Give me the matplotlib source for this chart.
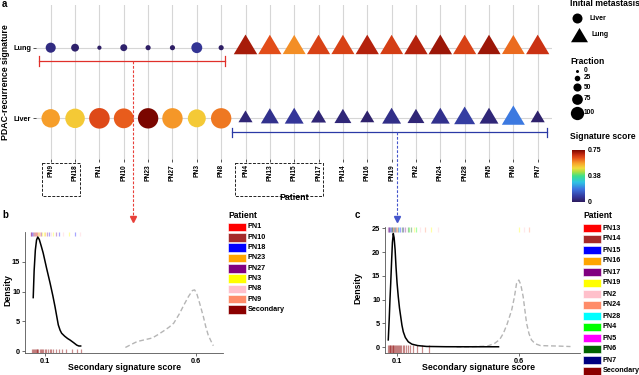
import numpy as np
import matplotlib
matplotlib.use("Agg")
import matplotlib.pyplot as plt
from matplotlib.colors import LinearSegmentedColormap, Normalize
from matplotlib.cm import ScalarMappable
from matplotlib.path import Path
from matplotlib.patches import Rectangle
import matplotlib.transforms as mtrans

plt.rcParams['font.family'] = ['Liberation Sans', 'DejaVu Sans']
plt.rcParams['font.weight'] = 'bold'

# ---------------- panel a data ----------------
patients = ['PN9', 'PN18', 'PN1', 'PN10', 'PN23', 'PN27', 'PN3', 'PN8',
            'PN4', 'PN13', 'PN15', 'PN17', 'PN14', 'PN16', 'PN19', 'PN2',
            'PN24', 'PN28', 'PN5', 'PN6', 'PN7']
initial_met = ['Liver'] * 8 + ['Lung'] * 13
signature_levels = ['Liver', 'Lung']
lung_score = [0.045, 0.02, 0.01, 0.02, 0.01, 0.01, 0.07, 0.01,
              0.71, 0.64, 0.58, 0.655, 0.655, 0.70, 0.66, 0.70,
              0.72, 0.655, 0.72, 0.61, 0.675]
lung_fraction = [23, 14, 4, 11, 6, 6, 27, 6,
                 100, 97, 95, 97, 96, 98, 96, 99, 100, 97, 97, 94, 98]
liver_score = [0.565, 0.51, 0.645, 0.625, 0.75, 0.57, 0.51, 0.60,
               0.03, 0.06, 0.075, 0.03, 0.035, 0.02, 0.055, 0.03,
               0.06, 0.09, 0.035, 0.195, 0.02]
liver_fraction = [77, 86, 96, 89, 94, 94, 73, 94,
                  36, 59, 65, 41, 52, 36, 65, 52, 65, 80, 65, 96, 36]
fraction_breaks = [0, 25, 50, 75, 100]
score_ticks = [0, 0.38, 0.75]
score_tick_labels = ['0', '0.38', '0.75']

liver_group_span = (-0.47, 7.16)
lung_group_span = (7.43, 20.39)
liver_group_arrow_x = 3.39
lung_group_arrow_x = 14.22
boxed_label_spans = [(-0.36, 1.2), (7.57, 11.18)]

# ---------------- panel b data ----------------
b_primary_x = [0.061, 0.064, 0.068, 0.072, 0.076, 0.081, 0.088, 0.094, 0.105, 0.117,
               0.126, 0.133, 0.139, 0.144, 0.150, 0.155, 0.165, 0.175, 0.183, 0.195,
               0.205, 0.212, 0.218]
b_primary_y = [9.0, 13.5, 17.0, 18.7, 19.2, 18.8, 17.6, 16.5, 14.0, 11.4,
               9.3, 7.5, 5.8, 4.4, 3.5, 3.0, 2.5, 2.1, 1.85, 1.4,
               1.0, 0.85, 0.85]
b_other_x = [0.366, 0.385, 0.405, 0.43, 0.455, 0.475, 0.493, 0.51, 0.526, 0.545,
             0.56, 0.575, 0.588, 0.595, 0.602, 0.612, 0.624, 0.632, 0.640, 0.650, 0.657]
b_other_y = [0.6, 1.1, 1.6, 1.9, 2.2, 2.8, 3.4, 4.0, 4.7, 6.3,
             7.8, 9.2, 10.2, 10.3, 9.7, 8.0, 5.8, 4.1, 2.7, 1.6, 0.9]
b_rug_top_values = [0.052, 0.055, 0.058, 0.061, 0.064, 0.067, 0.070, 0.073, 0.076, 0.079,
                    0.083, 0.087, 0.091, 0.096, 0.101, 0.107, 0.113, 0.120, 0.128, 0.137,
                    0.147, 0.160, 0.178, 0.200, 0.215]
b_rug_top_patient = ['PN27', 'PN27', 'PN18', 'PN27', 'PN10', 'PN10', 'PN1', 'PN10', 'PN23', 'PN23',
                     'PN9', 'PN27', 'PN3', 'PN3', 'PN23', 'PN27', 'PN18', 'PN8', 'PN3', 'PN27',
                     'PN18', 'PN8', 'PN3', 'PN18', 'PN8']
b_rug_bottom_values = [0.056, 0.060, 0.063, 0.066, 0.069, 0.072, 0.075, 0.078, 0.082, 0.086,
                       0.090, 0.095, 0.100, 0.104, 0.109, 0.115, 0.121, 0.128, 0.136, 0.145,
                       0.155, 0.170, 0.190, 0.205, 0.220]
b_patients = ['PN1', 'PN10', 'PN18', 'PN23', 'PN27', 'PN3', 'PN8', 'PN9', 'Secondary']
b_patient_colors = ['#ff0000', '#a52a2a', '#0000ff', '#ffa500', '#800080', '#ffff00',
                    '#ffc0cb', '#ff8c69', '#8b0000']

# ---------------- panel c data ----------------
c_primary_x = [0.063, 0.067, 0.070, 0.073, 0.077, 0.080, 0.0836, 0.087, 0.091, 0.0947,
               0.099, 0.104, 0.109, 0.114, 0.119, 0.1246, 0.133, 0.145, 0.16, 0.184,
               0.22, 0.30, 0.40, 0.515]
c_primary_y = [1.5, 6.0, 10.0, 13.4, 18.5, 22.0, 23.9, 23.0, 20.5, 16.9,
               13.5, 10.6, 8.2, 6.4, 4.6, 3.2, 2.0, 1.1, 0.6, 0.3,
               0.12, 0.06, 0.05, 0.05]
c_other_x = [0.343, 0.40, 0.47, 0.50, 0.52, 0.535, 0.55, 0.569, 0.58, 0.589,
             0.598, 0.606, 0.616, 0.623, 0.63, 0.64, 0.65, 0.665, 0.687, 0.72, 0.76, 0.81]
c_other_y = [0.0, 0.05, 0.2, 0.8, 1.6, 2.9, 4.8, 7.8, 10.5, 13.4,
             14.1, 13.2, 10.6, 7.8, 5.0, 2.8, 1.5, 0.7, 0.3, 0.25, 0.2, 0.1]
c_rug_top_values = [0.062, 0.065, 0.068, 0.071, 0.074, 0.077, 0.080, 0.083, 0.086, 0.089,
                    0.093, 0.097, 0.101, 0.106, 0.112, 0.118, 0.125, 0.133, 0.142, 0.150,
                    0.158, 0.167, 0.178, 0.195, 0.215, 0.240, 0.265, 0.600, 0.620, 0.640]
c_rug_top_patient = ['PN17', 'PN7', 'PN17', 'PN15', 'PN7', 'PN4', 'PN7', 'PN13', 'PN6', 'PN7',
                     'PN14', 'PN16', 'PN7', 'PN28', 'PN15', 'PN6', 'PN7', 'PN17', 'PN6', 'PN4',
                     'PN6', 'PN19', 'PN4', 'PN2', 'PN24', 'PN19', 'PN2', 'PN19', 'PN2', 'PN24']
c_rug_bottom_values = [0.063, 0.066, 0.069, 0.072, 0.075, 0.078, 0.081, 0.084, 0.087, 0.090,
                       0.094, 0.098, 0.102, 0.106, 0.111, 0.116, 0.122, 0.128, 0.135, 0.143,
                       0.152, 0.165, 0.180, 0.200, 0.230]
c_patients = ['PN13', 'PN14', 'PN15', 'PN16', 'PN17', 'PN19', 'PN2', 'PN24', 'PN28',
              'PN4', 'PN5', 'PN6', 'PN7', 'Secondary']
c_patient_colors = ['#ff0000', '#a52a2a', '#0000ff', '#ffa500', '#800080', '#ffff00',
                    '#ffc0cb', '#ff8c69', '#00ffff', '#00ff00', '#ff00ff', '#006400',
                    '#000080', '#8b0000']

# ---------------- figure ----------------
W, H = 639, 375
fig = plt.figure(figsize=(W / 100, H / 100), dpi=100)


def px_axes(l, t, r, b):
    return fig.add_axes([l / W, 1 - b / H, (r - l) / W, (b - t) / H])


ov = fig.add_axes([0, 0, 1, 1], zorder=20)
ov.set_xlim(0, W)
ov.set_ylim(H, 0)
ov.axis('off')
ov.patch.set_alpha(0)

cmap = LinearSegmentedColormap.from_list('sig', [
    (0.00, '#2d1b5e'), (0.10, '#34379a'), (0.25, '#3d74e0'), (0.38, '#2ec4e4'),
    (0.50, '#3ee08a'), (0.58, '#a8e044'), (0.65, '#f2dc3c'), (0.75, '#f7a02a'),
    (0.85, '#e5501a'), (0.92, '#c02810'), (1.00, '#7a0600')])
norm = Normalize(0, 0.75)

tri_path = Path([(0, 0.667), (-0.595, -0.333), (0.595, -0.333), (0, 0.667)],
                [Path.MOVETO, Path.LINETO, Path.LINETO, Path.CLOSEPOLY])


def circ_s(f):
    return (2.1 * np.sqrt(np.asarray(f, float)) * 0.72) ** 2


def tri_s(f):
    return (2.35 * np.sqrt(np.asarray(f, float)) / 0.8925 * 0.72) ** 2


# ---------------- panel a ----------------
axa = px_axes(36.1, 5.3, 552.3, 159.3)
axa.patch.set_alpha(0)
xs = np.arange(len(patients))
axa.set_xlim(-0.6, len(patients) - 0.4)
axa.set_ylim(0.42, 2.6)
axa.set_xticks(xs)
axa.set_xticklabels(patients, rotation=90, fontsize=4.8)
axa.set_yticks([1, 2])
axa.set_yticklabels(signature_levels, fontsize=5.2)
axa.grid(True, color='#d6d6d6', lw=0.8, zorder=0)
axa.set_axisbelow(True)
for s in axa.spines.values():
    s.set_visible(False)
axa.tick_params(length=2.3, width=0.6, color='#333333', pad=1.2)

met = np.array(initial_met)
for row_y, scores, fracs in [(2, lung_score, lung_fraction), (1, liver_score, liver_fraction)]:
    scores = np.array(scores)
    fracs = np.array(fracs)
    m = met == 'Liver'
    axa.scatter(xs[m], np.full(m.sum(), row_y), s=circ_s(fracs[m]), c=scores[m],
                cmap=cmap, norm=norm, marker='o', linewidths=0, zorder=3)
    m = met == 'Lung'
    axa.scatter(xs[m], np.full(m.sum(), row_y), s=tri_s(fracs[m]), c=scores[m],
                cmap=cmap, norm=norm, marker=tri_path, linewidths=0, zorder=3)

blend = mtrans.blended_transform_factory(axa.transData, ov.transData)
for span, yb, xarr, col, dcol in [(liver_group_span, 1.816, liver_group_arrow_x, '#e0302a', '#e8403a'),
                                  (lung_group_span, 0.80, lung_group_arrow_x, '#2b3aa6', '#4455cc')]:
    axa.plot(span, [yb, yb], color=col, lw=0.9, clip_on=False, zorder=4)
    for xe in span:
        axa.plot([xe, xe], [yb - 0.07, yb + 0.07], color=col, lw=0.9, clip_on=False, zorder=4)
    y0_px = axa.transData.transform((0, yb))
    y0_px = ov.transData.inverted().transform(y0_px)[1]
    axa.plot([xarr, xarr], [y0_px, 217], transform=blend, color=dcol, lw=0.8,
             ls=(0, (2.5, 1.5)), clip_on=False, zorder=4)
    axa.plot([xarr], [219], transform=blend, marker='v', ms=4, color=dcol,
             mec=dcol, clip_on=False, zorder=4)

for x0, x1 in boxed_label_spans:
    r = Rectangle((x0, 163), x1 - x0, 33, transform=blend, fill=False,
                  edgecolor='#222222', lw=0.7, ls=(0, (3, 1.5)), clip_on=False)
    axa.add_patch(r)

ov.text(294, 198, 'Patient', fontsize=6.3, ha='center', va='center')
ov.text(6, 82, 'PDAC-recurrence signature', fontsize=6.3, rotation=90,
        ha='center', va='center')
ov.text(2, 4, 'a', fontsize=7, ha='left', va='center')
ov.text(2, 215, 'b', fontsize=7, ha='left', va='center')
ov.text(355, 215, 'c', fontsize=7, ha='left', va='center')

# panel a legends
ov.text(570, 4, 'Initial metastasis', fontsize=6.2, ha='left', va='center')
ov.scatter([577], [18.3], s=(10 * 0.72) ** 2, marker='o', c='black', linewidths=0)
ov.text(590, 18.3, 'Liver', fontsize=5.0, ha='left', va='center')
ov.scatter([579], [37], s=(17 / 0.8925 * 0.72) ** 2, marker=tri_path, c='black', linewidths=0)
ov.text(591, 35, 'Lung', fontsize=5.0, ha='left', va='center')

ov.text(570, 61, 'Fraction', fontsize=6.2, ha='left', va='center')
leg_y = [70.7, 77.5, 87.3, 99.0, 113.0]
for fb, yy in zip(fraction_breaks, leg_y):
    d = 3 + 10.3 * fb / 100
    ov.scatter([577], [yy], s=(d * 0.72) ** 2, marker='o', c='black', linewidths=0)
    ov.text(584, yy, str(fb), fontsize=4.8, ha='left', va='center')

ov.text(570, 136.5, 'Signature score', fontsize=6.2, ha='left', va='center')
cax = px_axes(572, 150, 585, 202)
cb = fig.colorbar(ScalarMappable(norm=norm, cmap=cmap), cax=cax, ticks=score_ticks)
cb.set_ticklabels(score_tick_labels)
cb.outline.set_visible(False)
cax.tick_params(length=0, labelsize=5, pad=2)


# ---------------- panels b & c ----------------
def density_panel(box, xlim, ylim, yticks, prim, other, rug_top, rug_top_pat,
                  rug_bot, pats, pcols, rug_top_span, rug_bot_span):
    ax = px_axes(*box)
    ax.patch.set_alpha(0)
    colmap = dict(zip(pats, pcols))
    ax.vlines(rug_top, rug_top_span[0], rug_top_span[1],
              colors=[colmap[p] for p in rug_top_pat], alpha=0.35, lw=0.9, zorder=1)
    ax.vlines(rug_bot, rug_bot_span[0], rug_bot_span[1], colors=colmap['Secondary'],
              alpha=0.45, lw=0.9, zorder=1)
    ax.plot(other[0], other[1], color='#b5b5b5', lw=1.0, ls=(0, (3.5, 2)), zorder=2)
    ax.plot(prim[0], prim[1], color='black', lw=1.1, zorder=3)
    ax.set_xlim(*xlim)
    ax.set_ylim(*ylim)
    ax.set_xticks([0.1, 0.6])
    ax.set_xticklabels(['0.1', '0.6'])
    ax.set_yticks(yticks)
    for s in ['top', 'right']:
        ax.spines[s].set_visible(False)
    for s in ['left', 'bottom']:
        ax.spines[s].set_color('#555555')
        ax.spines[s].set_linewidth(0.6)
    ax.tick_params(length=2, width=0.6, color='#555555', labelsize=5.3, pad=1.5)
    return ax


axb = density_panel((25, 231.7, 223, 353), (0.0338, 0.689), (-0.33, 20.1), [0, 5, 10, 15],
                    (b_primary_x, b_primary_y), (b_other_x, b_other_y),
                    b_rug_top_values, b_rug_top_patient, b_rug_bottom_values,
                    b_patients, b_patient_colors, (19.4, 20.1), (-0.33, 0.4))
axc = density_panel((385, 227.3, 580, 353), (0.0496, 0.849), (-1.26, 25.2), [0, 5, 10, 15, 20, 25],
                    (c_primary_x, c_primary_y), (c_other_x, c_other_y),
                    c_rug_top_values, c_rug_top_patient, c_rug_bottom_values,
                    c_patients, c_patient_colors, (24.3, 25.2), (-1.26, 0.4))

ov.text(124, 368, 'Secondary signature score', fontsize=6.3, ha='center', va='center')
ov.text(478, 368, 'Secondary signature score', fontsize=6.3, ha='center', va='center')
ov.text(8, 290, 'Density', fontsize=6.3, rotation=90, ha='center', va='center')
ov.text(358, 288, 'Density', fontsize=6.3, rotation=90, ha='center', va='center')


def patient_legend(x, y0, step, pats, cols):
    ov.text(x, 215, 'Patient', fontsize=6.2, ha='left', va='center')
    for i, (p, c) in enumerate(zip(pats, cols)):
        yy = y0 + i * step
        ov.add_patch(Rectangle((x, yy - 4.3), 17.5, 8.6, facecolor=c,
                               edgecolor='#ffffff', lw=0.4))
        ov.text(x + 19.5, yy, p, fontsize=5.2, ha='left', va='center')


patient_legend(228, 227, 10.3, b_patients, b_patient_colors)
patient_legend(583, 228, 11.0, c_patients, c_patient_colors)

fig.savefig('out.png', dpi=100)
